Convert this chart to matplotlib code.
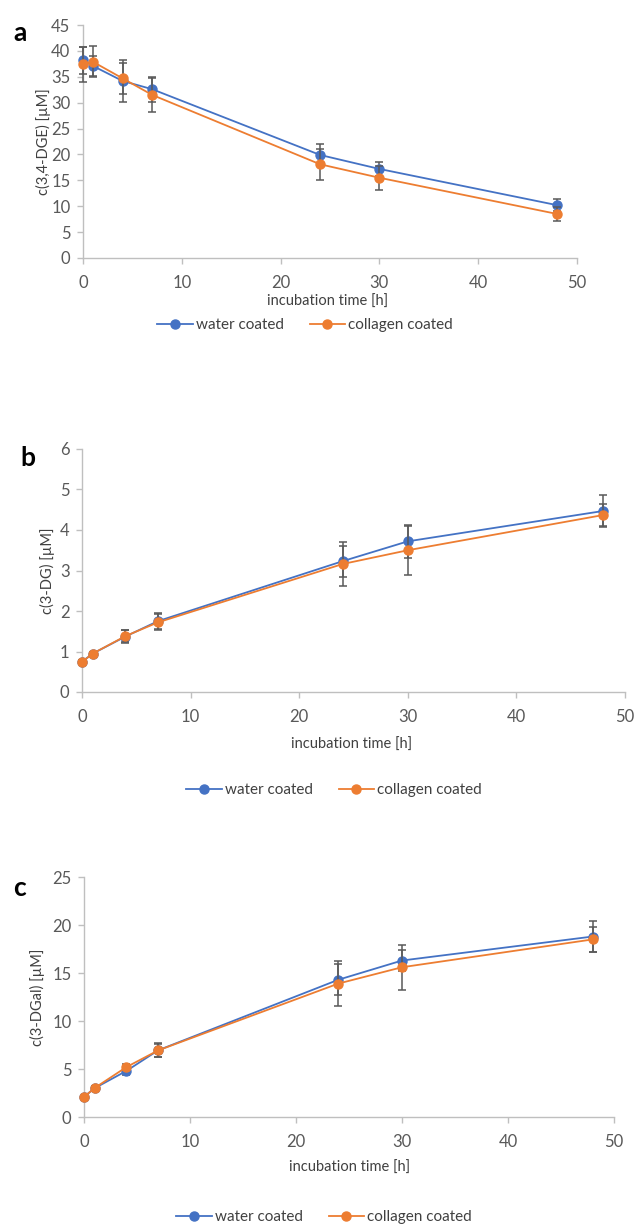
import matplotlib
matplotlib.use("Agg")
import matplotlib.pyplot as plt
import numpy as np

plt.rcParams['font.family'] = ['Lato', 'DejaVu Sans']

# incubation time [h]
time_h = [0, 1, 4, 7, 24, 30, 48]

# a: c(3,4-DGE)
dge_water = [38.2, 37.1, 34.2, 32.6, 19.9, 17.2, 10.2]
dge_water_err = [2.6, 2.0, 4.1, 2.4, 2.2, 1.3, 1.2]
dge_coll = [37.4, 37.9, 34.7, 31.5, 18.1, 15.5, 8.5]
dge_coll_err = [3.4, 3.0, 3.0, 3.3, 3.0, 2.3, 1.3]

# b: c(3-DG)
dg_water = [0.75, 0.95, 1.37, 1.75, 3.23, 3.72, 4.47]
dg_water_err = [0.05, 0.05, 0.15, 0.2, 0.38, 0.4, 0.4]
dg_coll = [0.74, 0.95, 1.38, 1.72, 3.16, 3.50, 4.37]
dg_coll_err = [0.05, 0.05, 0.15, 0.2, 0.55, 0.6, 0.27]

# c: c(3-DGal)
dgal_water = [2.1, 3.0, 4.8, 6.95, 14.3, 16.3, 18.8]
dgal_water_err = [0.1, 0.2, 0.4, 0.75, 1.6, 1.1, 1.6]
dgal_coll = [2.08, 3.02, 5.2, 6.94, 13.9, 15.6, 18.5]
dgal_coll_err = [0.1, 0.2, 0.3, 0.7, 2.3, 2.35, 1.3]

blue = '#4472C4'
orange = '#ED7D31'
axis_grey = '#BFBFBF'
text_grey = '#595959'
W, H = 637, 1226

panels = [
    dict(tag='a', box=(83, 25, 577, 258), ylim=45, ystep=5,
         ylabel='c(3,4-DGE) [µM]', w=dge_water, we=dge_water_err, c=dge_coll, ce=dge_coll_err,
         tagpos=(20, 33), ylab_x=43, xlab=(328, 302), leg=(305, 325)),
    dict(tag='b', box=(82, 449, 625, 692), ylim=6, ystep=1,
         ylabel='c(3-DG) [µM]', w=dg_water, we=dg_water_err, c=dg_coll, ce=dg_coll_err,
         tagpos=(28, 458), ylab_x=47, xlab=(352, 745), leg=(334, 790)),
    dict(tag='c', box=(84, 877, 614, 1117), ylim=25, ystep=5,
         ylabel='c(3-DGal) [µM]', w=dgal_water, we=dgal_water_err, c=dgal_coll, ce=dgal_coll_err,
         tagpos=(20, 888), ylab_x=37, xlab=(350, 1168), leg=(324, 1217)),
]

fig = plt.figure(figsize=(W / 100, H / 100), dpi=100)

for p in panels:
    x0, y0, x1, y1 = p['box']
    ax = fig.add_axes([x0 / W, 1 - y1 / H, (x1 - x0) / W, (y1 - y0) / H])
    ax.errorbar(time_h, p['w'], yerr=p['we'], color=blue, marker='o', markersize=6.5,
                linewidth=1.3, ecolor='#595959', elinewidth=1.1, capsize=3, capthick=1.1,
                label='water coated', zorder=3)
    ax.errorbar(time_h, p['c'], yerr=p['ce'], color=orange, marker='o', markersize=6.5,
                linewidth=1.3, ecolor='#595959', elinewidth=1.1, capsize=3, capthick=1.1,
                label='collagen coated', zorder=4)
    ax.set_xlim(0, 50)
    ax.set_ylim(0, p['ylim'])
    ax.set_xticks(np.arange(0, 51, 10))
    ax.set_yticks(np.arange(0, p['ylim'] + 0.001, p['ystep']))
    ax.yaxis.set_major_formatter(matplotlib.ticker.FormatStrFormatter('%g'))
    for s in ['top', 'right']:
        ax.spines[s].set_visible(False)
    for s in ['left', 'bottom']:
        ax.spines[s].set_color(axis_grey)
        ax.spines[s].set_linewidth(1.0)
    ax.spines['left'].set_zorder(0)
    ax.tick_params(axis='both', direction='out', length=4, width=1.0, color=axis_grey,
                   labelcolor=text_grey, labelsize=12)
    ax.tick_params(axis='x', pad=8)
    ax.tick_params(axis='y', pad=5)
    for art in ax.get_children():
        art.set_clip_on(False)

    ax.set_ylabel(p['ylabel'], fontsize=10.5, color='#404040')
    ax.yaxis.set_label_coords(p['ylab_x'] / W, 1 - (y0 + y1) / 2 / H, transform=fig.transFigure)
    ax.set_xlabel('incubation time [h]', fontsize=10.5, color='#404040')
    ax.xaxis.set_label_coords(p['xlab'][0] / W, 1 - p['xlab'][1] / H, transform=fig.transFigure)
    ax.xaxis.label.set_va('center')
    ax.yaxis.label.set_va('center')

    handles, labels = ax.get_legend_handles_labels()
    handles = [h[0] for h in handles]
    fig.legend(handles, labels, loc='center', ncol=2, frameon=False, fontsize=11,
               bbox_to_anchor=(p['leg'][0] / W, 1 - p['leg'][1] / H),
               handlelength=2.3, handletextpad=0.2, columnspacing=1.7,
               labelcolor='#404040')

    fig.text(p['tagpos'][0] / W, 1 - p['tagpos'][1] / H, p['tag'], fontsize=19,
             fontweight='bold', ha='center', va='center', color='black')

fig.savefig('out.png', dpi=100)
